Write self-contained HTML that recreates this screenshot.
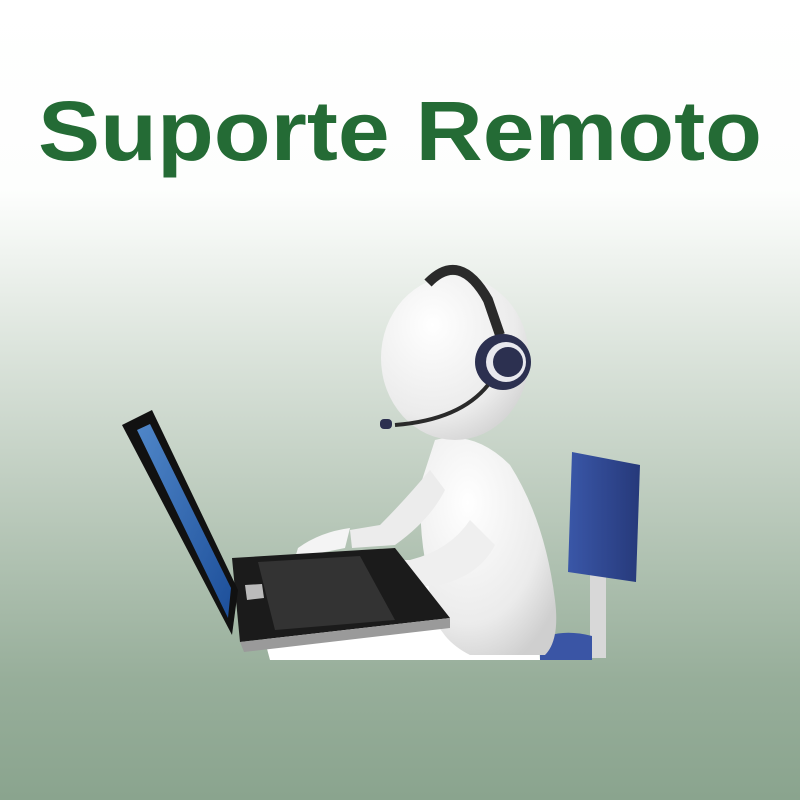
<!DOCTYPE html>
<html><head><style>
html,body{margin:0;padding:0;width:800px;height:800px;overflow:hidden}
body{background:linear-gradient(to bottom,#ffffff 0px,#fdfefd 190px,#e6ece6 300px,#bccbbd 500px,#97ae9a 680px,#8aa48e 800px)}
</style></head><body>
<svg width="800" height="800" viewBox="0 0 800 800" xmlns="http://www.w3.org/2000/svg">
<defs>
<radialGradient id="wh" cx="0.35" cy="0.3" r="0.8"><stop offset="0" stop-color="#ffffff"/><stop offset="0.7" stop-color="#ebebeb"/><stop offset="1" stop-color="#cfcfcf"/></radialGradient>
<linearGradient id="scr" x1="0" y1="0" x2="1" y2="1"><stop offset="0" stop-color="#4f86c8"/><stop offset="1" stop-color="#1d4f9a"/></linearGradient>
<linearGradient id="ch" x1="0" y1="0" x2="1" y2="0"><stop offset="0" stop-color="#3a57a8"/><stop offset="1" stop-color="#26397a"/></linearGradient>
</defs>
<text x="400" y="160" text-anchor="middle" font-family="Liberation Sans, sans-serif" font-weight="bold" font-size="84" fill="#246b35" textLength="724" lengthAdjust="spacingAndGlyphs">Suporte Remoto</text>
<rect x="590" y="570" width="16" height="88" fill="#d8d8d8"/>
<path d="M572 452 L640 465 L636 582 L568 572 Z" fill="url(#ch)"/>
<path d="M540 640 Q560 628 592 636 L592 660 L540 660 Z" fill="#3a55a5"/>
<path d="M250 585 L535 568 L540 660 L270 660 Z" fill="#ffffff"/>
<path d="M435 440 Q475 430 510 465 Q545 520 555 600 Q560 640 545 655 L470 655 Q440 640 432 610 L425 560 Q418 520 422 480 Z" fill="url(#wh)"/>
<path d="M430 470 Q405 500 380 525 L350 530 L352 548 L395 545 Q430 520 445 490 Z" fill="#ececec"/>
<path d="M470 520 Q450 550 410 560 L380 560 Q350 570 335 595 L345 605 Q370 590 400 588 L440 585 Q480 575 495 545 Z" fill="#efefef"/>
<path d="M350 528 Q320 532 298 548 L295 558 L345 548 Z" fill="#f4f4f4"/>
<path d="M232 558 L395 548 L450 618 L240 642 Z" fill="#1b1b1b"/>
<path d="M240 642 L450 618 L450 628 L244 652 Z" fill="#9a9a9a"/>
<path d="M258 562 L360 556 L395 620 L275 630 Z" fill="#333"/>
<path d="M245 585 L262 584 L264 598 L247 600 Z" fill="#bbb"/>
<path d="M122 425 L152 410 L238 590 L232 635 Z" fill="#111"/>
<path d="M137 430 L150 424 L231 588 L228 618 Z" fill="url(#scr)"/>
<ellipse cx="455" cy="358" rx="74" ry="82" fill="url(#wh)"/>
<path d="M428 283 Q460 250 488 300 L500 335" stroke="#2a2a2a" stroke-width="10" fill="none"/>
<circle cx="503" cy="362" r="28" fill="#2c3050"/>
<circle cx="506" cy="362" r="20" fill="#e8e8ee"/>
<circle cx="508" cy="362" r="15" fill="#2c3050"/>
<path d="M488 385 Q460 420 395 425" stroke="#2a2a2a" stroke-width="4" fill="none"/>
<rect x="380" y="419" width="12" height="10" rx="4" fill="#2c3050"/>
</svg>
</body></html>
